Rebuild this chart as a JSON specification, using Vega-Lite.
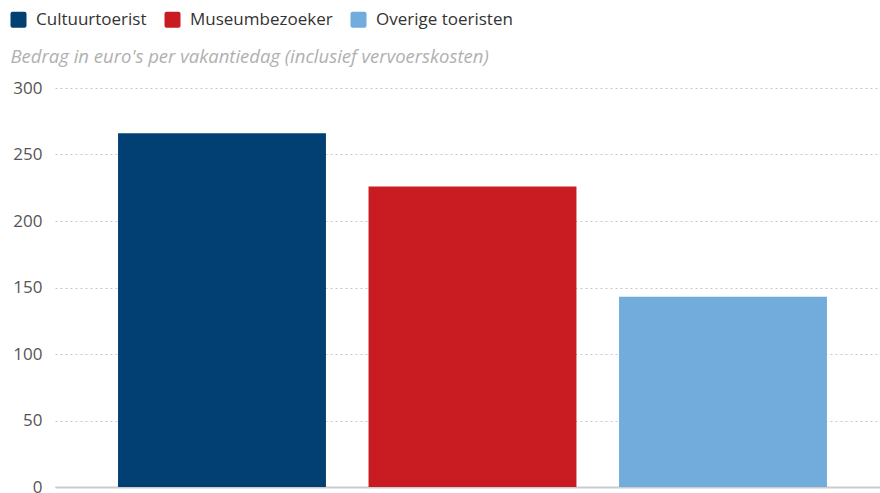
{
  "$schema": "https://vega.github.io/schema/vega-lite/v6.json",
  "autosize": "none",
  "width": 825,
  "height": 399,
  "padding": {"left": 55, "top": 88, "right": 0, "bottom": 6},
  "config": {
    "font": "Open Sans",
    "view": {"stroke": null}
  },
  "data": {
    "values": [
      {"groep": "Cultuurtoerist", "bedrag": 266},
      {"groep": "Museumbezoeker", "bedrag": 226},
      {"groep": "Overige toeristen", "bedrag": 143}
    ]
  },
  "mark": {"type": "bar"},
  "encoding": {
    "x": {
      "field": "groep",
      "type": "nominal",
      "sort": null,
      "scale": {"paddingInner": 0.17, "paddingOuter": 0.2317, "align": 0.543},
      "axis": {
        "title": null,
        "labels": false,
        "ticks": false,
        "domain": true,
        "domainColor": "#cccccc",
        "domainWidth": 2
      }
    },
    "y": {
      "field": "bedrag",
      "type": "quantitative",
      "scale": {"domain": [0, 300]},
      "axis": {
        "values": [0, 50, 100, 150, 200, 250, 300],
        "title": "Bedrag in euro's per vakantiedag (inclusief vervoerskosten)",
        "titleAngle": 0,
        "titleAlign": "left",
        "titleBaseline": "middle",
        "titleX": -45,
        "titleY": -32,
        "titleFont": "Open Sans",
        "titleFontStyle": "italic",
        "titleFontWeight": "normal",
        "titleFontSize": 18.5,
        "titleColor": "#b0b0b0",
        "domain": false,
        "ticks": false,
        "labelPadding": 13,
        "labelFontSize": 17,
        "labelColor": "#555555",
        "gridColor": "#c8c8c8",
        "gridDash": [2, 3],
        "gridWidth": 1.2
      }
    },
    "color": {
      "field": "groep",
      "type": "nominal",
      "sort": null,
      "scale": {
        "domain": ["Cultuurtoerist", "Museumbezoeker", "Overige toeristen"],
        "range": ["#023f73", "#c91b22", "#72acdc"]
      },
      "legend": {
        "title": null,
        "orient": "none",
        "direction": "horizontal",
        "legendX": -45,
        "legendY": -77,
        "symbolType": "M -0.75 -1 L 0.75 -1 Q 1 -1 1 -0.75 L 1 0.75 Q 1 1 0.75 1 L -0.75 1 Q -1 1 -1 0.75 L -1 -0.75 Q -1 -1 -0.75 -1 Z",
        "symbolSize": 256,
        "symbolStrokeWidth": 0,
        "labelFontSize": 17,
        "labelColor": "#333333",
        "labelOffset": 9,
        "columnPadding": 17
      }
    }
  }
}
